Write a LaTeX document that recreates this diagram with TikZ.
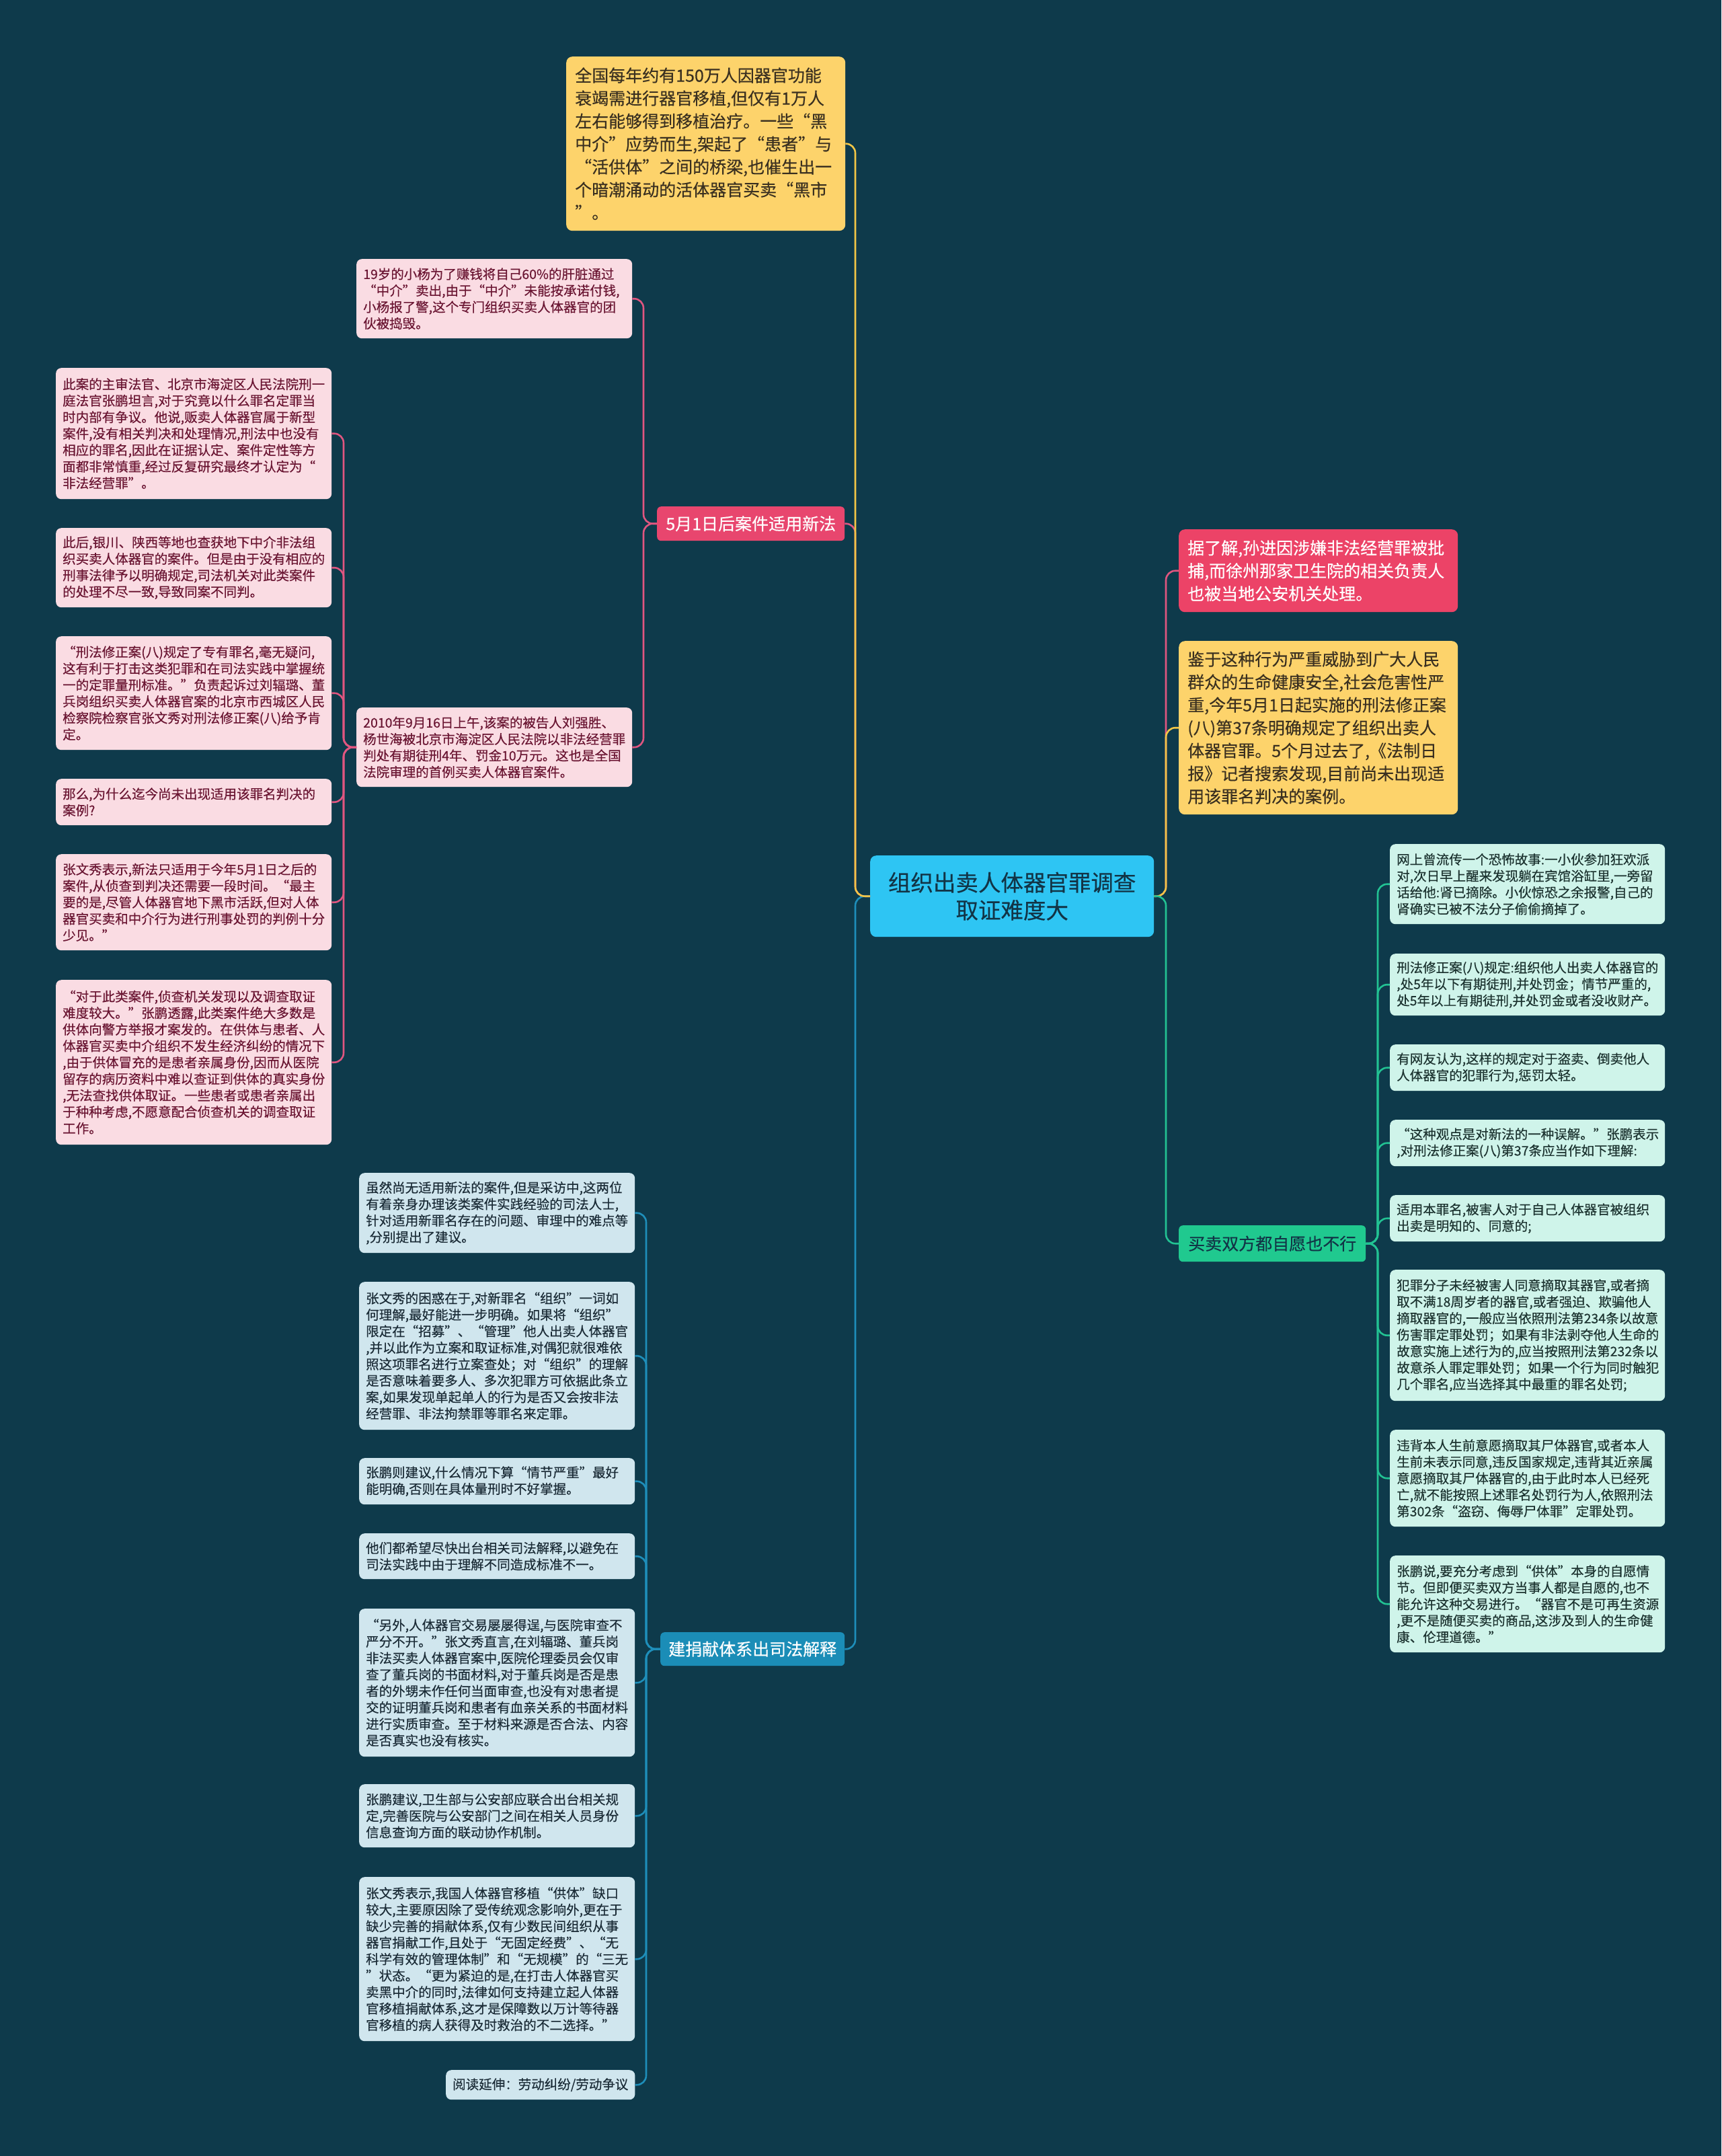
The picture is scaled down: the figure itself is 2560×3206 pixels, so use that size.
\documentclass[tikz,border=0pt]{standalone}
\usepackage{fontspec}
\setmainfont{Noto Sans CJK SC}[FakeBold=0.35]
\usetikzlibrary{calc}
\definecolor{bgdark}{HTML}{0E3A4B}
\definecolor{hubcyan}{HTML}{2EC5F3}
\definecolor{hubink}{HTML}{123446}
\definecolor{goldfill}{HTML}{FDD36B}
\definecolor{goldline}{HTML}{F2C646}
\definecolor{goldink}{HTML}{3A3020}
\definecolor{rosetag}{HTML}{E8466E}
\definecolor{roseline}{HTML}{E05680}
\definecolor{rosepale}{HTML}{FADCE3}
\definecolor{roseink}{HTML}{6A1532}
\definecolor{redcard}{HTML}{EC4367}
\definecolor{bluetag}{HTML}{1B8DB7}
\definecolor{blueline}{HTML}{1E8EBA}
\definecolor{bluepale}{HTML}{D0E6EE}
\definecolor{blueink}{HTML}{1B2C37}
\definecolor{greentag}{HTML}{20C98F}
\definecolor{greenline}{HTML}{22C293}
\definecolor{greenpale}{HTML}{CFF4EA}
\definecolor{greenink}{HTML}{1C3330}
\tikzset{
  hubnode/.style={rounded corners=9pt, fill=hubcyan, text=hubink, anchor=north west,
                  align=center, font=\fontsize{33.5}{41}\selectfont,
                  minimum width=422pt, minimum height=121pt, inner sep=0pt},
  bigcard/.style={rounded corners=9pt, anchor=north west, align=left, text width=389pt,
                  inner xsep=13pt, inner ysep=0pt, font=\fontsize{25}{34}\selectfont},
  goldcard/.style={bigcard, fill=goldfill, text=goldink},
  redbox/.style={bigcard, fill=redcard, text=white},
  tagnode/.style={rounded corners=6pt, anchor=north west, align=center, inner sep=0pt,
                  font=\fontsize{25}{30}\selectfont},
  smallcard/.style={rounded corners=8pt, anchor=north west, align=left, text width=390pt,
                  inner xsep=10pt, inner ysep=0pt, font=\fontsize{19.5}{24.5}\selectfont},
  rosecard/.style={smallcard, fill=rosepale, text=roseink},
  greencard/.style={smallcard, fill=greenpale, text=greenink, text width=389pt},
  bluecard/.style={smallcard, fill=bluepale, text=blueink},
  link/.style={line width=2.6pt, rounded corners=14pt},
  goldlink/.style={link, draw=goldline},
  roselink/.style={link, draw=roseline},
  bluelink/.style={link, draw=blueline},
  greenlink/.style={link, draw=greenline},
}
\begin{document}
\begin{tikzpicture}[x=1pt, y=-1pt]
\fill[bgdark] (0,0) rectangle (2560,3206);
\useasboundingbox (0,0) rectangle (2560,3206);

% ---- centre ----
\node[hubnode] (hub) at (1294,1272) {组织出卖人体器官罪调查\\取证难度大};

% ---- branch x positions ----
\coordinate (hubL) at (1272,0);
\coordinate (hubR) at (1734,0);
\coordinate (newB) at (957,0);
\coordinate (caseB) at (511,0);
\coordinate (blueB) at (961,0);
\coordinate (greenB) at (2049,0);

% ---- left, top ----
\node[goldcard, minimum height=259pt] (fact) at (842,84)
  {全国每年约有150万人因器官功能\\衰竭需进行器官移植,但仅有1万人\\左右能够得到移植治疗。一些“黑\\中介”应势而生,架起了“患者”与\\“活供体”之间的桥梁,也催生出一\\个暗潮涌动的活体器官买卖“黑市\\”。};

\node[tagnode, fill=rosetag, text=white, minimum width=279pt, minimum height=51pt] (tagNew) at (977,753) {5月1日后案件适用新法};

\node[rosecard, minimum height=118pt] (young) at (530,385)
  {19岁的小杨为了赚钱将自己60\%的肝脏通过\\“中介”卖出,由于“中介”未能按承诺付钱,\\小杨报了警,这个专门组织买卖人体器官的团\\伙被捣毁。};
\node[rosecard, minimum height=118pt] (verdict) at (530,1052)
  {2010年9月16日上午,该案的被告人刘强胜、\\杨世海被北京市海淀区人民法院以非法经营罪\\判处有期徒刑4年、罚金10万元。这也是全国\\法院审理的首例买卖人体器官案件。};

% ---- left column under the 2010 case ----
\node[rosecard, minimum height=195pt] (judge) at (83,547)
  {此案的主审法官、北京市海淀区人民法院刑一\\庭法官张鹏坦言,对于究竟以什么罪名定罪当\\时内部有争议。他说,贩卖人体器官属于新型\\案件,没有相关判决和处理情况,刑法中也没有\\相应的罪名,因此在证据认定、案件定性等方\\面都非常慎重,经过反复研究最终才认定为“\\非法经营罪”。};
\node[rosecard, minimum height=118pt] (diverge) at (83,785)
  {此后,银川、陕西等地也查获地下中介非法组\\织买卖人体器官的案件。但是由于没有相应的\\刑事法律予以明确规定,司法机关对此类案件\\的处理不尽一致,导致同案不同判。};
\node[rosecard, minimum height=169pt] (praise) at (83,946)
  {“刑法修正案(八)规定了专有罪名,毫无疑问,\\这有利于打击这类犯罪和在司法实践中掌握统\\一的定罪量刑标准。”负责起诉过刘辐璐、董\\兵岗组织买卖人体器官案的北京市西城区人民\\检察院检察官张文秀对刑法修正案(八)给予肯\\定。};
\node[rosecard, minimum height=69pt] (whynot) at (83,1158)
  {那么,为什么迄今尚未出现适用该罪名判决的\\案例?};
\node[rosecard, minimum height=143pt] (timing) at (83,1270)
  {张文秀表示,新法只适用于今年5月1日之后的\\案件,从侦查到判决还需要一段时间。“最主\\要的是,尽管人体器官地下黑市活跃,但对人体\\器官买卖和中介行为进行刑事处罚的判例十分\\少见。”};
\node[rosecard, minimum height=245pt] (hurdle) at (83,1457)
  {“对于此类案件,侦查机关发现以及调查取证\\难度较大。”张鹏透露,此类案件绝大多数是\\供体向警方举报才案发的。在供体与患者、人\\体器官买卖中介组织不发生经济纠纷的情况下\\,由于供体冒充的是患者亲属身份,因而从医院\\留存的病历资料中难以查证到供体的真实身份\\,无法查找供体取证。一些患者或患者亲属出\\于种种考虑,不愿意配合侦查机关的调查取证\\工作。};

% ---- right, top ----
\node[redbox, minimum height=123pt] (caught) at (1753,787)
  {据了解,孙进因涉嫌非法经营罪被批\\捕,而徐州那家卫生院的相关负责人\\也被当地公安机关处理。};
\node[goldcard, minimum height=258pt] (threat) at (1753,953)
  {鉴于这种行为严重威胁到广大人民\\群众的生命健康安全,社会危害性严\\重,今年5月1日起实施的刑法修正案\\(八)第37条明确规定了组织出卖人\\体器官罪。5个月过去了,《法制日\\报》记者搜索发现,目前尚未出现适\\用该罪名判决的案例。};

\node[tagnode, fill=greentag, text=hubink, minimum width=278pt, minimum height=54pt] (tagBoth) at (1753,1822) {买卖双方都自愿也不行};

% ---- right column ----
\node[greencard, minimum height=119pt] (story) at (2067,1255)
  {网上曾流传一个恐怖故事:一小伙参加狂欢派\\对,次日早上醒来发现躺在宾馆浴缸里,一旁留\\话给他:肾已摘除。小伙惊恐之余报警,自己的\\肾确实已被不法分子偷偷摘掉了。};
\node[greencard, minimum height=92pt] (clause) at (2067,1418)
  {刑法修正案(八)规定:组织他人出卖人体器官的\\,处5年以下有期徒刑,并处罚金；情节严重的,\\处5年以上有期徒刑,并处罚金或者没收财产。};
\node[greencard, minimum height=69pt] (critics) at (2067,1553)
  {有网友认为,这样的规定对于盗卖、倒卖他人\\人体器官的犯罪行为,惩罚太轻。};
\node[greencard, minimum height=69pt] (reply) at (2067,1665)
  {“这种观点是对新法的一种误解。”张鹏表示\\,对刑法修正案(八)第37条应当作如下理解:};
\node[greencard, minimum height=69pt] (consent) at (2067,1777)
  {适用本罪名,被害人对于自己人体器官被组织\\出卖是明知的、同意的;};
\node[greencard, minimum height=195pt] (forced) at (2067,1888)
  {犯罪分子未经被害人同意摘取其器官,或者摘\\取不满18周岁者的器官,或者强迫、欺骗他人\\摘取器官的,一般应当依照刑法第234条以故意\\伤害罪定罪处罚；如果有非法剥夺他人生命的\\故意实施上述行为的,应当按照刑法第232条以\\故意杀人罪定罪处罚；如果一个行为同时触犯\\几个罪名,应当选择其中最重的罪名处罚;};
\node[greencard, minimum height=144pt] (corpse) at (2067,2126)
  {违背本人生前意愿摘取其尸体器官,或者本人\\生前未表示同意,违反国家规定,违背其近亲属\\意愿摘取其尸体器官的,由于此时本人已经死\\亡,就不能按照上述罪名处罚行为人,依照刑法\\第302条“盗窃、侮辱尸体罪”定罪处罚。};
\node[greencard, minimum height=144pt] (ethics) at (2067,2313)
  {张鹏说,要充分考虑到“供体”本身的自愿情\\节。但即便买卖双方当事人都是自愿的,也不\\能允许这种交易进行。“器官不是可再生资源\\,更不是随便买卖的商品,这涉及到人的生命健\\康、伦理道德。”};

% ---- left, bottom ----
\node[tagnode, fill=bluetag, text=white, minimum width=274pt, minimum height=50pt] (tagDonor) at (982,2427) {建捐献体系出司法解释};

\node[bluecard, minimum height=119pt] (advise) at (534,1744)
  {虽然尚无适用新法的案件,但是采访中,这两位\\有着亲身办理该类案件实践经验的司法人士,\\针对适用新罪名存在的问题、审理中的难点等\\,分别提出了建议。};
\node[bluecard, minimum height=220pt] (puzzle) at (534,1906)
  {张文秀的困惑在于,对新罪名“组织”一词如\\何理解,最好能进一步明确。如果将“组织”\\限定在“招募”、“管理”他人出卖人体器官\\,并以此作为立案和取证标准,对偶犯就很难依\\照这项罪名进行立案查处；对“组织”的理解\\是否意味着要多人、多次犯罪方可依据此条立\\案,如果发现单起单人的行为是否又会按非法\\经营罪、非法拘禁罪等罪名来定罪。};
\node[bluecard, minimum height=69pt] (gravity) at (534,2168)
  {张鹏则建议,什么情况下算“情节严重”最好\\能明确,否则在具体量刑时不好掌握。};
\node[bluecard, minimum height=68pt] (unify) at (534,2280)
  {他们都希望尽快出台相关司法解释,以避免在\\司法实践中由于理解不同造成标准不一。};
\node[bluecard, minimum height=220pt] (review) at (534,2392)
  {“另外,人体器官交易屡屡得逞,与医院审查不\\严分不开。”张文秀直言,在刘辐璐、董兵岗\\非法买卖人体器官案中,医院伦理委员会仅审\\查了董兵岗的书面材料,对于董兵岗是否是患\\者的外甥未作任何当面审查,也没有对患者提\\交的证明董兵岗和患者有血亲关系的书面材料\\进行实质审查。至于材料来源是否合法、内容\\是否真实也没有核实。};
\node[bluecard, minimum height=94pt] (linkage) at (534,2653)
  {张鹏建议,卫生部与公安部应联合出台相关规\\定,完善医院与公安部门之间在相关人员身份\\信息查询方面的联动协作机制。};
\node[bluecard, minimum height=244pt] (donate) at (534,2791)
  {张文秀表示,我国人体器官移植“供体”缺口\\较大,主要原因除了受传统观念影响外,更在于\\缺少完善的捐献体系,仅有少数民间组织从事\\器官捐献工作,且处于“无固定经费”、“无\\科学有效的管理体制”和“无规模”的“三无\\”状态。“更为紧迫的是,在打击人体器官买\\卖黑中介的同时,法律如何支持建立起人体器\\官移植捐献体系,这才是保障数以万计等待器\\官移植的病人获得及时救治的不二选择。”};
\node[bluecard, text width=, align=center, minimum width=281pt, minimum height=44pt] (further) at (663,3078)
  {阅读延伸：劳动纠纷/劳动争议};

% ---- connectors from the centre ----
\draw[roselink] (hub.west) -- (hub.west -| hubL) |- (tagNew.east);
\draw[bluelink] (hub.west) -- (hub.west -| hubL) |- (tagDonor.east);
\draw[goldlink] (hub.west) -- (hub.west -| hubL) |- (fact.east);
\foreach \kid/\sty in {caught/roselink, threat/goldlink, tagBoth/greenlink}
  \draw[\sty] (hub.east) -- (hub.east -| hubR) |- (\kid.west);

% ---- connectors, second level ----
\foreach \kid in {young, verdict}
  \draw[roselink] (tagNew.west) -- (tagNew.west -| newB) |- (\kid.east);
\foreach \kid in {judge, diverge, praise, whynot, timing, hurdle}
  \draw[roselink] (verdict.west) -- (verdict.west -| caseB) |- (\kid.east);
\foreach \kid in {story, clause, critics, reply, consent, forced, corpse, ethics}
  \draw[greenlink] (tagBoth.east) -- (tagBoth.east -| greenB) |- (\kid.west);
\foreach \kid in {advise, puzzle, gravity, unify, review, linkage, donate, further}
  \draw[bluelink] (tagDonor.west) -- (tagDonor.west -| blueB) |- (\kid.east);

\end{tikzpicture}
\end{document}
